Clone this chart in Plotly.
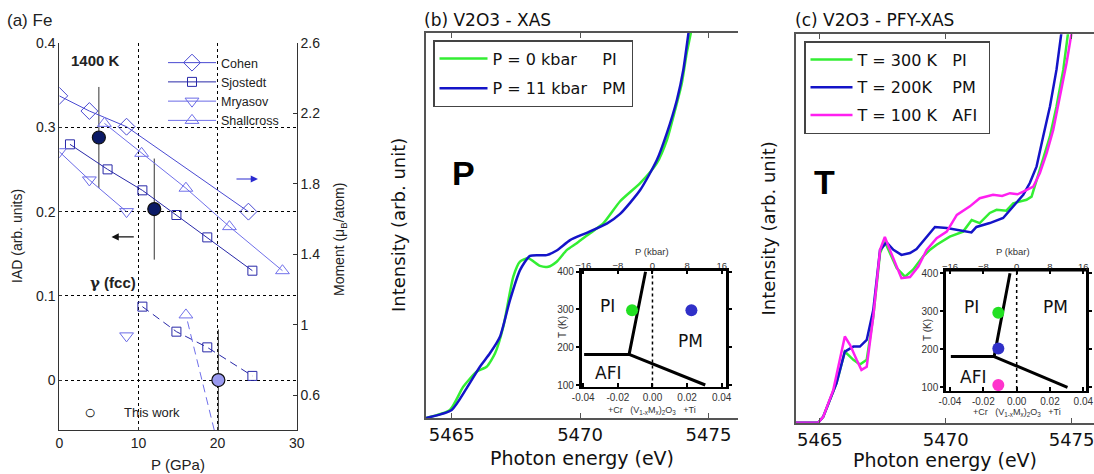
import plotly.graph_objects as go

W, H = 1094, 474

# ---------------- Panel (a): Fe ----------------
P_ticks = [0, 10, 20, 30]
IAD_ticks = [0, 0.1, 0.2, 0.3, 0.4]
IAD_labels = ["0", "0.1", "0.2", "0.3", "0.4"]
mom_ticks = [0.6, 1.0, 1.4, 1.8, 2.2, 2.6]
mom_labels = ["0.6", "1", "1.4", "1.8", "2.2", "2.6"]

cohen_P = [0, 3.8, 8.5, 23.9]
cohen_m = [2.30, 2.214, 2.125, 1.643]
sjo_P = [1.35, 6.1, 10.5, 14.8, 18.7, 24.4]
sjo_m = [2.025, 1.883, 1.764, 1.624, 1.497, 1.308]
mry_P = [0, 3.8, 8.5]
mry_m = [1.983, 1.823, 1.643]
sha_P = [5.7, 10.4, 16.0, 21.5, 28.2]
sha_m = [2.144, 1.974, 1.776, 1.558, 1.308]

# gamma (fcc) branch
sjo_fcc_P = [10.5, 14.8, 18.7, 24.4]
sjo_fcc_m = [1.104, 0.962, 0.873, 0.711]
mry_fcc_P = [8.5]
mry_fcc_m = [0.938]
sha_fcc_P = [16.0]
sha_fcc_m = [1.057]
sha_fcc_trend_P = [16.2, 19.6]
sha_fcc_trend_m = [1.02, 0.40]

this_P = [5.0, 12.0, 20.1]
this_IAD = [0.288, 0.203, 0.0]
this_err = [0.06, 0.06, 0.06]
this_fill = ["#0b1a66", "#0b1a66", "#9a9af0"]

# ---------------- Panel (b): V2O3 XAS vs P ----------------
E_ticks = [5465, 5470, 5475]
E_b_green = [5464.0, 5464.93, 5465.45, 5465.97, 5466.36, 5466.69, 5467.01, 5467.40, 5467.66,
             5467.98, 5468.44, 5468.76, 5469.09, 5469.48, 5469.87, 5470.39, 5470.91, 5471.56,
             5472.34, 5472.99, 5473.38, 5473.70, 5473.96, 5474.15, 5474.31, 5474.45]
I_b_green = [0.0, 0.021, 0.081, 0.120, 0.133, 0.168, 0.237, 0.367, 0.406,
             0.415, 0.395, 0.393, 0.406, 0.436, 0.454, 0.480, 0.506, 0.563,
             0.610, 0.662, 0.722, 0.800, 0.869, 0.947, 0.999, 1.06]
E_b_blue = [5464.0, 5465.0, 5465.58, 5466.10, 5466.49, 5466.88, 5467.27, 5467.66, 5468.05,
            5468.70, 5469.09, 5469.61, 5470.26, 5471.04, 5471.56, 5472.34, 5472.99, 5473.38,
            5473.77, 5474.02, 5474.22, 5474.36]
I_b_blue = [0.0, 0.021, 0.077, 0.133, 0.168, 0.211, 0.306, 0.384, 0.421,
            0.423, 0.435, 0.462, 0.481, 0.505, 0.530, 0.592, 0.670, 0.740,
            0.826, 0.904, 0.999, 1.06]

# ---------------- Panel (c): V2O3 PFY-XAS vs T ----------------
E_c_300 = [5463.98, 5464.93, 5465.13, 5465.66, 5465.99, 5466.33, 5466.59, 5466.86, 5467.12,
           5467.39, 5467.58, 5467.78, 5468.05, 5468.38, 5468.70, 5469.10, 5469.39, 5469.64,
           5470.16, 5470.69, 5471.03, 5471.35, 5471.75, 5472.02, 5472.41, 5472.68, 5473.21,
           5473.41, 5473.61, 5473.87, 5474.14, 5474.40, 5474.67, 5474.86, 5475.00]
I_c_300 = [0.0, 0.0, 0.015, 0.102, 0.183, 0.162, 0.150, 0.162, 0.273,
           0.437, 0.466, 0.437, 0.398, 0.376, 0.394, 0.428, 0.446, 0.458,
           0.479, 0.492, 0.522, 0.514, 0.540, 0.548, 0.546, 0.565, 0.574,
           0.582, 0.626, 0.677, 0.737, 0.814, 0.909, 1.004, 1.06]
E_c_200 = [5463.98, 5464.93, 5465.13, 5465.66, 5465.99, 5466.33, 5466.59, 5466.86, 5467.12,
           5467.39, 5467.65, 5467.92, 5468.24, 5468.58, 5468.84, 5469.24, 5469.57, 5470.04,
           5470.44, 5470.83, 5471.02, 5471.22, 5471.75, 5472.28, 5472.68, 5473.08, 5473.34,
           5473.61, 5473.87, 5474.14, 5474.40, 5474.60, 5474.71]
I_c_200 = [0.0, 0.0, 0.015, 0.102, 0.183, 0.196, 0.196, 0.213, 0.290,
           0.445, 0.464, 0.445, 0.432, 0.437, 0.447, 0.479, 0.504, 0.501,
           0.497, 0.492, 0.490, 0.504, 0.514, 0.527, 0.557, 0.587, 0.617,
           0.660, 0.737, 0.814, 0.909, 1.004, 1.06]
E_c_100 = [5463.98, 5464.93, 5465.13, 5465.53, 5465.99, 5466.20, 5466.46, 5466.65, 5466.86,
           5467.12, 5467.39, 5467.58, 5467.78, 5468.05, 5468.24, 5468.58, 5468.91, 5469.24,
           5469.64, 5470.04, 5470.44, 5470.96, 5471.35, 5471.88, 5472.24, 5472.55, 5472.85,
           5473.08, 5473.48, 5473.74, 5474.01, 5474.27, 5474.54, 5474.80, 5475.00, 5475.12]
I_c_100 = [0.0, 0.0, 0.015, 0.084, 0.222, 0.200, 0.162, 0.136, 0.144,
           0.273, 0.445, 0.478, 0.445, 0.402, 0.372, 0.375, 0.402, 0.445,
           0.475, 0.492, 0.535, 0.557, 0.578, 0.587, 0.584, 0.591, 0.588,
           0.595, 0.608, 0.643, 0.694, 0.754, 0.840, 0.926, 1.004, 1.06]

# ---------------- Insets: V2O3 phase diagram ----------------
dop_ticks = [-0.04, -0.02, 0.0, 0.02, 0.04]
dop_labels = ["-0.04", "-0.02", "0.00", "0.02", "0.04"]
T_ticks = [100, 200, 300, 400]
P_kbar_ticks = [-16, -8, 0, 8, 16]
kbar_per_dop = 400
phase_x = [-0.0395, -0.0135, -0.004, None, -0.0135, 0.0305]
phase_T = [181, 181, 400, None, 181, 100]
dots_b_x = [-0.0118, 0.0225]
dots_b_T = [298, 298]
dots_b_col = ["#22e022", "#3030c8"]
dots_c_x = [-0.011, -0.011, -0.011]
dots_c_T = [296, 202, 106]
dots_c_col = ["#22e022", "#3030c8", "#ff33cc"]

GREEN = "#33ee33"
BLUE = "#1414c8"
MAG = "#ff1ff0"

ARIAL = "Liberation Sans, Arial, sans-serif"
COMIC = "DejaVu Sans, sans-serif"

fig = go.Figure()

# ---- panel (a) traces ----
c_cohen = "#4a4ad2"
c_sjo = "#2828a8"
c_mry = "#6a6ae6"
c_sha = "#7070ea"

fig.add_trace(go.Scatter(x=cohen_P, y=cohen_m, xaxis="x", yaxis="y2", mode="lines+markers",
                         name="Cohen", legend="legend",
                         line=dict(color=c_cohen, width=1),
                         marker=dict(symbol="diamond-open", size=13, color=c_cohen, line=dict(width=1))))
fig.add_trace(go.Scatter(x=sjo_P, y=sjo_m, xaxis="x", yaxis="y2", mode="lines+markers",
                         name="Sjostedt", legend="legend",
                         line=dict(color=c_sjo, width=1),
                         marker=dict(symbol="square-open", size=9, color=c_sjo, line=dict(width=1))))
fig.add_trace(go.Scatter(x=mry_P, y=mry_m, xaxis="x", yaxis="y2", mode="lines+markers",
                         name="Mryasov", legend="legend",
                         line=dict(color=c_mry, width=1),
                         marker=dict(symbol="triangle-down-open", size=12, color=c_mry, line=dict(width=1))))
fig.add_trace(go.Scatter(x=sha_P, y=sha_m, xaxis="x", yaxis="y2", mode="lines+markers",
                         name="Shallcross", legend="legend",
                         line=dict(color=c_sha, width=1),
                         marker=dict(symbol="triangle-up-open", size=12, color=c_sha, line=dict(width=1))))
fig.add_trace(go.Scatter(x=sjo_fcc_P, y=sjo_fcc_m, xaxis="x", yaxis="y2", mode="lines+markers",
                         showlegend=False,
                         line=dict(color=c_sjo, width=1, dash="8px,5px"),
                         marker=dict(symbol="square-open", size=9, color=c_sjo, line=dict(width=1))))
fig.add_trace(go.Scatter(x=mry_fcc_P, y=mry_fcc_m, xaxis="x", yaxis="y2", mode="markers",
                         showlegend=False,
                         marker=dict(symbol="triangle-down-open", size=12, color=c_mry, line=dict(width=1))))
fig.add_trace(go.Scatter(x=sha_fcc_trend_P, y=sha_fcc_trend_m, xaxis="x", yaxis="y2", mode="lines",
                         showlegend=False, line=dict(color=c_sha, width=1, dash="8px,5px")))
fig.add_trace(go.Scatter(x=sha_fcc_P, y=sha_fcc_m, xaxis="x", yaxis="y2", mode="markers",
                         showlegend=False,
                         marker=dict(symbol="triangle-up-open", size=12, color=c_sha, line=dict(width=1))))
fig.add_trace(go.Scatter(x=this_P, y=this_IAD, xaxis="x", yaxis="y", mode="markers",
                         showlegend=False,
                         error_y=dict(type="data", array=this_err, color="#333333", thickness=1, width=0),
                         marker=dict(symbol="circle", size=13, color=this_fill,
                                     line=dict(color="#111111", width=1.2))))

# ---- panel (b) traces ----
fig.add_trace(go.Scatter(x=E_b_green, y=I_b_green, xaxis="x2", yaxis="y3", mode="lines",
                         name="P = 0 kbar\u00a0\u00a0\u00a0\u00a0\u00a0PI\u00a0", legend="legend2",
                         legendgroup="b0",
                         line=dict(color=GREEN, width=2.5, shape="spline", smoothing=0.6)))
fig.add_trace(go.Scatter(x=E_b_blue, y=I_b_blue, xaxis="x2", yaxis="y3", mode="lines",
                         name="P = 11 kbar\u00a0\u00a0\u00a0PM", legend="legend2",
                         legendgroup="b1",
                         line=dict(color=BLUE, width=2.5, shape="spline", smoothing=0.6)))

# ---- panel (c) traces ----
fig.add_trace(go.Scatter(x=E_c_300, y=I_c_300, xaxis="x3", yaxis="y4", mode="lines",
                         name="T = 300 K\u00a0\u00a0\u00a0PI", legend="legend3", legendgroup="c0",
                         line=dict(color=GREEN, width=2.5)))
fig.add_trace(go.Scatter(x=E_c_200, y=I_c_200, xaxis="x3", yaxis="y4", mode="lines",
                         name="T = 200K\u00a0\u00a0\u00a0\u00a0PM", legend="legend3", legendgroup="c1",
                         line=dict(color=BLUE, width=2.5)))
fig.add_trace(go.Scatter(x=E_c_100, y=I_c_100, xaxis="x3", yaxis="y4", mode="lines",
                         name="T = 100 K\u00a0\u00a0\u00a0AFI\u00a0", legend="legend3", legendgroup="c2",
                         line=dict(color=MAG, width=2.5)))

# ---- insets ----
for xa, ya, xt, dx, dT, dc in [("x4", "y5", "x5", dots_b_x, dots_b_T, dots_b_col),
                                ("x6", "y6", "x7", dots_c_x, dots_c_T, dots_c_col)]:
    fig.add_trace(go.Scatter(x=[0, 0], y=[T_ticks[0] - 20, T_ticks[-1] + 20], xaxis=xa, yaxis=ya,
                             mode="lines", showlegend=False, hoverinfo="skip",
                             line=dict(color="black", width=1.5, dash="dot")))
    fig.add_trace(go.Scatter(x=phase_x, y=phase_T, xaxis=xa, yaxis=ya, mode="lines",
                             showlegend=False, line=dict(color="black", width=3)))
    fig.add_trace(go.Scatter(x=dx, y=dT, xaxis=xa, yaxis=ya, mode="markers", showlegend=False,
                             marker=dict(size=12, color=dc)))
    fig.add_trace(go.Scatter(x=P_kbar_ticks, y=[250] * len(P_kbar_ticks), xaxis=xt, yaxis=ya,
                             mode="markers", showlegend=False, hoverinfo="skip",
                             marker=dict(opacity=0)))


def px(v):
    return v / W


def py(v):
    return 1 - v / H


tick_a = dict(family=ARIAL, size=14, color="#222")
layout = dict(
    width=W, height=H, margin=dict(l=0, r=0, t=0, b=0, autoexpand=False),
    paper_bgcolor="white", plot_bgcolor="white",
    # panel (a)
    xaxis=dict(domain=[px(59.3), px(296.7)], range=[0, 30], anchor="y", tickvals=P_ticks,
               showgrid=True, gridcolor="black", griddash="dot", gridwidth=1,
               showline=True, linecolor="#333", linewidth=1, zeroline=False, automargin=False,
               ticks="inside", ticklen=3, tickcolor="#333", tickfont=tick_a),
    yaxis=dict(domain=[py(430), py(43)], range=[-0.0593, 0.4002], anchor="x",
               tickvals=IAD_ticks, ticktext=IAD_labels, automargin=False,
               showgrid=True, gridcolor="black", griddash="dot", gridwidth=1,
               showline=True, linecolor="#333", linewidth=1, zeroline=False,
               ticks="inside", ticklen=3, tickcolor="#333", tickfont=tick_a),
    yaxis2=dict(overlaying="y", side="right", anchor="x", range=[0.404, 2.6],
                tickvals=mom_ticks, ticktext=mom_labels, showgrid=False, zeroline=False,
                showline=True, linecolor="#333", linewidth=1, automargin=False,
                ticks="inside", ticklen=4, tickcolor="#333", tickfont=tick_a),
    # panel (b)
    xaxis2=dict(domain=[px(426), px(738)], range=[5464.0, 5476.15], anchor="y3",
                tickvals=E_ticks, showgrid=False, zeroline=False, automargin=False,
                showline=True, linecolor="#555", linewidth=1.5, mirror="ticks",
                ticks="inside", ticklen=5, tickcolor="#555",
                tickfont=dict(family=COMIC, size=18, color="#111")),
    yaxis3=dict(domain=[py(418), py(33)], range=[0, 1], anchor="x2", showticklabels=False,
                showgrid=False, zeroline=False, showline=True, linecolor="#555", linewidth=1.5,
                ticks="", automargin=False),
    # panel (c)
    xaxis3=dict(domain=[px(796), 1.0], range=[5464.05, 5475.89], anchor="y4",
                tickvals=E_ticks, showgrid=False, zeroline=False, automargin=False,
                showline=True, linecolor="#555", linewidth=1.5, mirror="ticks",
                ticks="inside", ticklen=5, tickcolor="#555", ticklabeloverflow="allow",
                tickfont=dict(family=COMIC, size=18, color="#111")),
    yaxis4=dict(domain=[py(422.7), py(34.3)], range=[0, 1], anchor="x3", showticklabels=False,
                showgrid=False, zeroline=False, showline=True, linecolor="#555", linewidth=1.5,
                ticks="", automargin=False),
)

inset_tick = dict(family=ARIAL, size=10, color="#333")
for (xa, ya, xt, xdom, ydom, xr, yr, toppos) in [
        ("xaxis4", "yaxis5", "xaxis5", [px(581.7), px(726)], [py(387), py(269.5)],
         [-0.0409, 0.0425], [94.7, 405.8], py(271)),
        ("xaxis6", "yaxis6", "xaxis7", [px(946), px(1086)], [py(391), py(270)],
         [-0.0424, 0.0416], [90.3, 408.7], py(271.5))]:
    yname = "y" + ya[5:]
    xname = "x" + xa[5:]
    layout[xa] = dict(domain=xdom, range=xr, anchor=yname, tickvals=dop_ticks, ticktext=dop_labels,
                      showgrid=False, zeroline=False, showline=True, linecolor="black", linewidth=2,
                      mirror="ticks", ticks="inside", ticklen=4, tickwidth=2, tickcolor="black",
                      tickfont=inset_tick, automargin=False)
    layout[ya] = dict(domain=ydom, range=yr, anchor=xname, tickvals=T_ticks,
                      showgrid=False, zeroline=False, showline=True, linecolor="black", linewidth=2.5,
                      mirror="ticks", ticks="outside", ticklen=3, tickwidth=2, tickcolor="black",
                      tickfont=inset_tick, automargin=False)
    layout[xt] = dict(overlaying=xname, anchor="free", position=toppos, side="top",
                      range=[xr[0] * kbar_per_dop, xr[1] * kbar_per_dop], tickvals=P_kbar_ticks,
                      showgrid=False, zeroline=False, showline=False, ticks="",
                      tickfont=dict(family=ARIAL, size=9.5, color="#333"), automargin=False)
    # thicker top frame line
    layout.setdefault("shapes", []).append(
        dict(type="line", xref="paper", yref="paper", x0=xdom[0], x1=xdom[1], y0=ydom[1], y1=ydom[1],
             line=dict(color="black", width=3)))

layout["legend"] = dict(x=px(163), y=py(48), xanchor="left", yanchor="top",
                        bgcolor="rgba(0,0,0,0)", borderwidth=0, tracegroupgap=0,
                        itemwidth=48,
                        font=dict(family=ARIAL, size=12.5, color="#222"))
layout["legend2"] = dict(x=px(433), y=py(40), xanchor="left", yanchor="top",
                         bgcolor="white", bordercolor="#444", borderwidth=1.5,
                         traceorder="grouped", tracegroupgap=6, itemwidth=48,
                         font=dict(family=COMIC, size=16, color="#111"))
layout["legend3"] = dict(x=px(804), y=py(41), xanchor="left", yanchor="top",
                         bgcolor="white", bordercolor="#444", borderwidth=1.5,
                         traceorder="grouped", tracegroupgap=4, itemwidth=42,
                         font=dict(family=COMIC, size=16, color="#111"))

ann = []


def A(text, x, y, size, family=ARIAL, color="#111", xanchor="center", angle=0, bold=False):
    if bold:
        text = "<b>" + text + "</b>"
    ann.append(dict(text=text, x=x, y=y, xref="paper", yref="paper", showarrow=False,
                    xanchor=xanchor, yanchor="middle", textangle=angle,
                    font=dict(family=family, size=size, color=color)))


# panel (a) texts
A("(a) Fe", px(5), py(20), 17, xanchor="left", color="#222")
A("1400 K", px(95), py(60), 15, bold=True, color="#222")
A("<span style='font-family:DejaVu Serif'>\u03b3</span> (fcc)", px(113), py(283), 15, bold=True,
  color="#222")
A("\u25cb", px(90), py(412), 20, color="#222")
A("This work", px(122), py(412), 13, xanchor="left", color="#222")
A("IAD (arb. units)", px(17), py(236), 14, angle=-90, color="#222")
A("Moment (\u03bc<sub>B</sub>/atom)", px(340), py(240), 14, angle=-90, color="#222")
A("P (GPa)", px(178), py(464), 15, color="#222")
# arrows
ann.append(dict(x=6.6, y=0.170, ax=9.6, ay=0.170, xref="x", yref="y", axref="x", ayref="y",
                showarrow=True, arrowhead=2, arrowsize=1.2, arrowwidth=1.2, arrowcolor="#111", text=""))
ann.append(dict(x=25.1, y=0.2387, ax=22.2, ay=0.2387, xref="x", yref="y", axref="x", ayref="y",
                showarrow=True, arrowhead=2, arrowsize=1.2, arrowwidth=1.2, arrowcolor="#2a2ad0", text=""))

# panel (b) texts
A("(b) V2O3 - XAS", px(421.7), py(20), 17, family=COMIC, xanchor="left")
A("P", px(464), py(173), 34, bold=True, color="black")
A("Intensity (arb. unit)", px(398), py(225), 18, family=COMIC, angle=-90)
A("Photon energy (eV)", px(582), py(458), 19, family=COMIC)
# panel (c) texts
A("(c) V2O3 - PFY-XAS", px(793), py(20), 17, family=COMIC, xanchor="left")
A("T", px(824), py(181.5), 34, bold=True, color="black")
A("Intensity (arb. unit)", px(768), py(228.5), 18, family=COMIC, angle=-90)
A("Photon energy (eV)", px(945), py(460), 19, family=COMIC)

# inset texts
comp = "+Cr\u00a0\u00a0\u00a0(V<sub>1-x</sub>M<sub>x</sub>)<sub>2</sub>O<sub>3</sub>\u00a0\u00a0\u00a0+Ti"
A("P (kbar)", px(652), py(252), 9.5, color="#333")
A("T (K)", px(562), py(327), 10, angle=-90, color="#333")
A(comp, px(652), py(410), 9, color="#333")
A("P (kbar)", px(1013), py(252), 9.5, color="#333")
A("T (K)", px(927), py(330), 10, angle=-90, color="#333")
A(comp, px(1017), py(412), 9, color="#333")

for xa, ya, labs in [("x4", "y5", [("PI", -0.026, 309), ("PM", 0.0217, 216), ("AFI", -0.0257, 132)]),
                     ("x6", "y6", [("PI", -0.027, 312), ("PM", 0.023, 312), ("AFI", -0.026, 128)])]:
    for t, lx, ly in labs:
        ann.append(dict(text=t, x=lx, y=ly, xref=xa, yref=ya, showarrow=False,
                        font=dict(family=COMIC, size=17, color="#111")))

layout["annotations"] = ann
fig.update_layout(**layout)
fig.write_html("out.html", config={"displayModeBar": False},
               post_script="document.body.style.margin='0';document.body.style.padding='0';"
                           "document.documentElement.style.overflow='hidden';")
